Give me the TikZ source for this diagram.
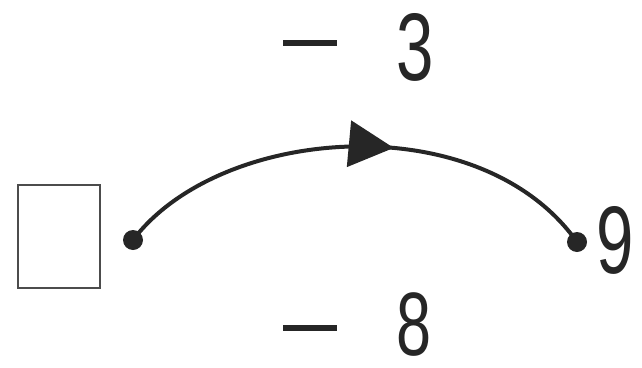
\documentclass[tikz,border=0pt]{standalone}
\usepackage{fontspec}
\setmainfont{Liberation Sans}
\usetikzlibrary{arrows.meta,decorations.markings}
\tikzset{
  digit/.style={font=\fontsize{96}{96}\selectfont, inner sep=0pt, text=black!85},
  smalldigit/.style={font=\fontsize{90}{90}\selectfont, inner sep=0pt, text=black!85},
  dotnode/.style={circle, fill=black!85, inner sep=0pt, minimum size=20pt},
  boxnode/.style={draw=black!70, line width=1.2pt, minimum width=82pt, minimum height=103pt, inner sep=0pt},
  minusbar/.style={line width=6pt, draw=black!85},
}
\newcommand{\narrow}[1]{\scalebox{0.7}[1]{#1}}
\begin{document}
\begin{tikzpicture}[x=1pt,y=-1pt]
\useasboundingbox (0,0) rectangle (642,367);
\node[boxnode] (box) at (59,236.5) {};
\node[dotnode] (a) at (133,240) {};
\node[dotnode] (b) at (577,242) {};
\draw[line width=4pt, draw=black!85,
  postaction={decorate},
  decoration={markings, mark=at position 0.575 with {\arrow{Triangle[length=45pt,width=46pt]}}}]
  (a.center) .. controls (220,125) and (480,105) .. (b.center);
\node[digit] (n9) at (615,240) {\narrow{9}};
\node[digit] (n3) at (415,47) {\narrow{3}};
\node[smalldigit] (n8) at (414,325) {\narrow{8}};
\coordinate (m3a) at (283,43);
\coordinate (m3b) at (337,43);
\draw[minusbar] (m3a) -- (m3b);
\coordinate (m8a) at (283,328);
\coordinate (m8b) at (337,328);
\draw[minusbar] (m8a) -- (m8b);
\end{tikzpicture}
\end{document}
